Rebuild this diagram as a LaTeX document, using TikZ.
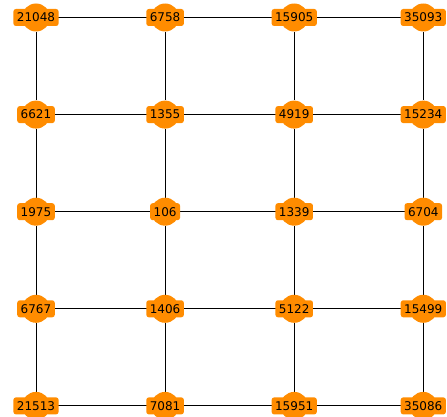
\documentclass[tikz,border=0pt]{standalone}
\usepackage{fontspec}
\setmainfont{DejaVu Sans}
\usetikzlibrary{backgrounds}
\definecolor{dorange}{HTML}{FF8C00}
\tikzset{
  vtx/.style={circle, fill=dorange, minimum size=28pt, inner sep=0pt},
  lbl/.style={rectangle, rounded corners=2.5pt, fill=dorange, inner xsep=3.5pt, inner ysep=0pt, minimum height=17pt, font=\fontsize{12pt}{14pt}\selectfont, text=black},
  edge/.style={draw=black, line width=1pt}
}
\begin{document}
\begin{tikzpicture}[x=1pt,y=1pt]
\useasboundingbox (0,0) rectangle (447,-417);
\def\xa{36}\def\xb{165.1}\def\xc{294.2}\def\xd{423.3}
\node[vtx] (a1) at (\xa,-17.5) {}; \node[lbl] (a1l) at (a1) {21048};
\node[vtx] (b1) at (\xb,-17.5) {}; \node[lbl] (b1l) at (b1) {6758};
\node[vtx] (c1) at (\xc,-17.5) {}; \node[lbl] (c1l) at (c1) {15905};
\node[vtx] (d1) at (\xd,-17.5) {}; \node[lbl] (d1l) at (d1) {35093};
\node[vtx] (a2) at (\xa,-114.6) {}; \node[lbl] (a2l) at (a2) {6621};
\node[vtx] (b2) at (\xb,-114.6) {}; \node[lbl] (b2l) at (b2) {1355};
\node[vtx] (c2) at (\xc,-114.6) {}; \node[lbl] (c2l) at (c2) {4919};
\node[vtx] (d2) at (\xd,-114.6) {}; \node[lbl] (d2l) at (d2) {15234};
\node[vtx] (a3) at (\xa,-211.7) {}; \node[lbl] (a3l) at (a3) {1975};
\node[vtx] (b3) at (\xb,-211.7) {}; \node[lbl] (b3l) at (b3) {106};
\node[vtx] (c3) at (\xc,-211.7) {}; \node[lbl] (c3l) at (c3) {1339};
\node[vtx] (d3) at (\xd,-211.7) {}; \node[lbl] (d3l) at (d3) {6704};
\node[vtx] (a4) at (\xa,-308.8) {}; \node[lbl] (a4l) at (a4) {6767};
\node[vtx] (b4) at (\xb,-308.8) {}; \node[lbl] (b4l) at (b4) {1406};
\node[vtx] (c4) at (\xc,-308.8) {}; \node[lbl] (c4l) at (c4) {5122};
\node[vtx] (d4) at (\xd,-308.8) {}; \node[lbl] (d4l) at (d4) {15499};
\node[vtx] (a5) at (\xa,-405.9) {}; \node[lbl] (a5l) at (a5) {21513};
\node[vtx] (b5) at (\xb,-405.9) {}; \node[lbl] (b5l) at (b5) {7081};
\node[vtx] (c5) at (\xc,-405.9) {}; \node[lbl] (c5l) at (c5) {15951};
\node[vtx] (d5) at (\xd,-405.9) {}; \node[lbl] (d5l) at (d5) {35086};
\begin{scope}[on background layer]
\foreach \r in {1,...,5}{
  \draw[edge] (a\r) -- (b\r);
  \draw[edge] (b\r) -- (c\r);
  \draw[edge] (c\r) -- (d\r);
}
\foreach \c in {a,b,c,d}{
  \draw[edge] (\c1) -- (\c2);
  \draw[edge] (\c2) -- (\c3);
  \draw[edge] (\c3) -- (\c4);
  \draw[edge] (\c4) -- (\c5);
}
\end{scope}
\end{tikzpicture}
\end{document}
